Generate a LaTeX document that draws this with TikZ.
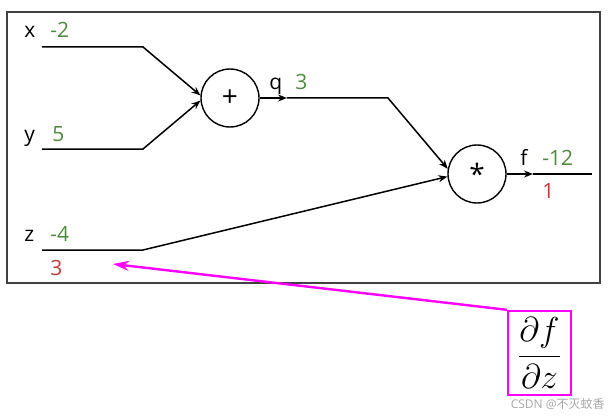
\documentclass[tikz,border=0pt]{standalone}
\usepackage{fontspec}
\setmainfont{Open Sans}
\newfontfamily\cjkfont{Noto Sans CJK SC}
\usetikzlibrary{arrows.meta,positioning}
\definecolor{valGreen}{HTML}{4E8A3E}
\definecolor{gradRed}{HTML}{C0393B}
\definecolor{hiMagenta}{HTML}{FF00FF}
\tikzset{
  wire/.style={line width=0.75pt},
  gate/.style={circle, draw, line width=0.7pt, minimum size=29pt, inner sep=0pt, font=\fontsize{14}{16}\selectfont},
  lab/.style={anchor=base west, inner sep=0pt},
  val/.style={lab, text=valGreen},
  grad/.style={lab, text=gradRed},
  tip/.style={-{Stealth[length=4.5pt,width=3.5pt]}}
}
\begin{document}
\begin{tikzpicture}[x=0.5pt, y=-0.5pt, font=\fontsize{10.5}{12.5}\selectfont]
  \useasboundingbox (0,0) rectangle (610,417);
  % Frame
  \draw[line width=0.7pt, black!75] (7,12) rectangle (600,283);
  % Gates
  \node[gate] (plus) at (230,98) {+};
  \node[gate] (star) at (477,174) {\raisebox{-3pt}{*}};
  % Inputs
  \node[lab] (xlab) at (24,38) {x};
  \node[val] (xval) at (50,38) {-2};
  \node[lab] (ylab) at (24,141) {y};
  \node[val] (yval) at (52,141) {5};
  \node[lab] (zlab) at (24,241) {z};
  \node[val] (zval) at (50,241) {-4};
  \node[grad] (zgrad) at (50,275) {3};
  \coordinate (xin) at (42,47);
  \coordinate (xbend) at (143,47);
  \coordinate (yin) at (42,149);
  \coordinate (ybend) at (143,149);
  \coordinate (zin) at (42,250);
  \coordinate (zbend) at (143,250);
  \draw[wire, tip] (xin) -- (xbend) -- (plus.175);
  \draw[wire, tip] (yin) -- (ybend) -- (plus.185);
  \draw[wire, tip] (zin) -- (zbend) -- (star.185);
  % Intermediate q
  \node[lab] (qlab) at (269,90) {q};
  \node[val] (qval) at (295,90) {3};
  \coordinate (qmid) at (287,98);
  \coordinate (qbend) at (388,98);
  \draw[wire, tip] (plus.east) -- (qmid);
  \draw[wire, tip] (qmid) -- (qbend) -- (star.170);
  % Output f
  \node[lab] (flab) at (520,165) {f};
  \node[val] (fval) at (542,165) {-12};
  \node[grad] (fgrad) at (542,198) {1};
  \coordinate (fmid) at (533,174);
  \coordinate (fout) at (592,174);
  \draw[wire, tip] (star.east) -- (fmid);
  \draw[wire] (fmid) -- (fout);
  % Local gradient callout
  \node[draw=hiMagenta, line width=1.2pt, minimum width=31.5pt, minimum height=42pt, inner sep=0pt,
    font=\fontsize{17}{20}\selectfont] (dfdz) at (539.5,353) {$\displaystyle\frac{\partial f}{\partial z}$};
  \coordinate (gradtip) at (113,264);
  \draw[hiMagenta, line width=1.2pt, -{Stealth[length=8pt,width=5pt]}] (dfdz.north west) -- (gradtip);
  % Watermark
  \node[anchor=base east, inner sep=0pt, text=black!35, font=\fontsize{6}{7}\selectfont]
    (mark) at (605,408) {CSDN @{\cjkfont 不灭蚊香}};
\end{tikzpicture}
\end{document}
